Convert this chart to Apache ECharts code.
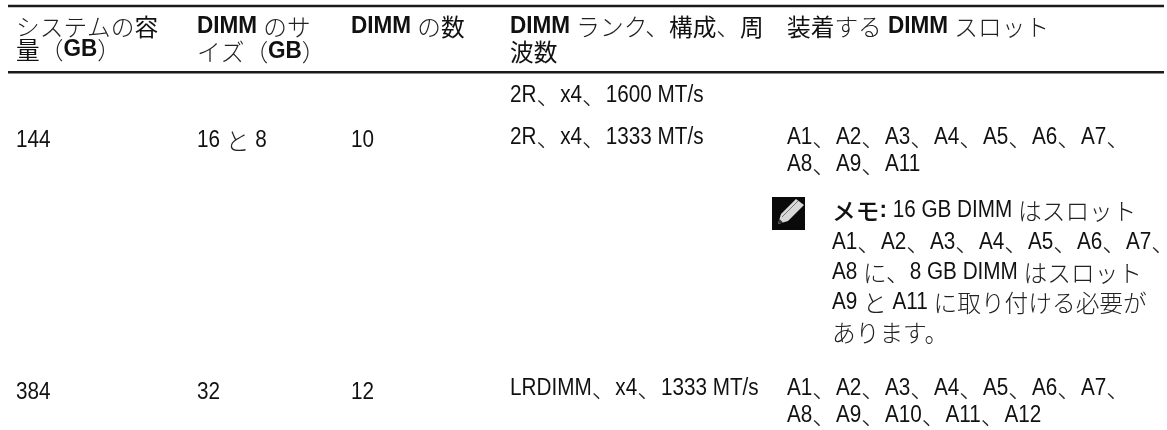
<!DOCTYPE html>
<html style="height: 100%">
<head>
    <meta charset="utf-8">
    <title>DIMM</title>
</head>
<body style="height: 100%; margin: 0; background: #fff">
    <div id="main" style="width: 1167px; height: 430px;"></div>
    <script src="https://cdn.jsdelivr.net/npm/echarts@6/dist/echarts.min.js"></script>
    <script type="text/javascript">
    // table text, one entry per printed line
    var headers = [
        ['システムの容', '量（GB）'],
        ['DIMM のサ', 'イズ（GB）'],
        ['DIMM の数'],
        ['DIMM ランク、構成、周', '波数'],
        ['装着する DIMM スロット']
    ];
    var capacity = ['', '144', '384'];
    var dimmSize = ['', '16 と 8', '32'];
    var dimmCount = ['', '10', '12'];
    var rankConfig = ['2R、x4、1600 MT/s', '2R、x4、1333 MT/s', 'LRDIMM、x4、1333 MT/s'];
    var slots = [
        [],
        ['A1、A2、A3、A4、A5、A6、A7、', 'A8、A9、A11'],
        ['A1、A2、A3、A4、A5、A6、A7、', 'A8、A9、A10、A11、A12']
    ];
    var noteLabel = 'メモ:';
    var noteLines = [
        ' 16 GB DIMM はスロット',
        'A1、A2、A3、A4、A5、A6、A7、',
        'A8 に、8 GB DIMM はスロット',
        'A9 と A11 に取り付ける必要が',
        'あります。'
    ];

    var LATIN = '"Liberation Sans"';
    var CJK = '"Noto Sans CJK JP"';
    var columnX = [16, 197, 351, 510, 787];
    var noteX = 832;
    var leftRowY = [95, 141, 393];
    var rankRowY = [96, 138, 389];
    var slotGap = 27;
    var noteY = [211, 243, 273, 303, 333];
    var headerLine2Y = [50, 52, 52, 52, 52];
    var items = [];

    // latin is squeezed a bit, no condensed face is installed
    var runStyles = {
        la: { font: '23px ' + LATIN, fill: '#111', sx: 0.9 },
        laB: { font: 'bold 23px ' + LATIN, fill: '#111', sx: 0.98 },
        cj: { font: '300 23.7px ' + CJK, fill: '#222', sx: 1 },
        cjK: { font: '400 23.7px ' + CJK, fill: '#111', sx: 1 },
        cjB: { font: '500 23.7px ' + CJK, fill: '#111', sx: 1 }
    };
    var measure = document.createElement('canvas').getContext('2d');

    function addRun(run, key, x, y) {
        var st = runStyles[key];
        measure.font = st.font;
        items.push({
            type: 'text',
            x: x,
            y: y,
            scaleX: st.sx,
            style: { text: run, font: st.font, fill: st.fill, verticalAlign: 'middle' }
        });
        return x + measure.measureText(run).width * st.sx;
    }

    // split a line into latin, kanji and kana runs and lay them out one after another
    function addLine(str, x, y, bold, kanaKey) {
        var runs = str.match(/[\x20-\x7e]+|[\u4e00-\u9fff]+|[^\x20-\x7e\u4e00-\u9fff]+/g) || [];
        runs.forEach(function (run) {
            var key = 'cj';
            if (/[\x20-\x7e]/.test(run)) key = bold ? 'laB' : 'la';
            else if (/[\u4e00-\u9fff]/.test(run)) key = bold ? 'cjK' : 'cj';
            else if (kanaKey) key = kanaKey;
            x = addRun(run, key, x, y);
        });
        return x;
    }

    function addRule(y) {
        items.push({
            type: 'line',
            shape: { x1: 8, y1: y, x2: 1164, y2: y },
            style: { stroke: '#1a1a1a', lineWidth: 2.5 }
        });
    }

    addRule(6);
    addRule(72.3);

    headers.forEach(function (lines, c) {
        addLine(lines[0], columnX[c], 27, true);
        if (lines[1]) addLine(lines[1], columnX[c], headerLine2Y[c], true);
    });

    rankConfig.forEach(function (str, r) {
        addLine(capacity[r], columnX[0], leftRowY[r]);
        addLine(dimmSize[r], columnX[1], leftRowY[r]);
        addLine(dimmCount[r], columnX[2], leftRowY[r]);
        addLine(str, columnX[3], rankRowY[r]);
        slots[r].forEach(function (line, i) {
            addLine(line, columnX[4], rankRowY[r] + i * slotGap);
        });
    });

    noteLines.forEach(function (line, i) {
        var x = noteX;
        if (i === 0) x = addLine(noteLabel, x, noteY[i], true, 'cjB');
        addLine(line, x, noteY[i]);
    });

    // note icon, pencil on black
    items.push({ type: 'rect', shape: { x: 772, y: 197, width: 33, height: 33 }, style: { fill: '#0a0a0a' } });
    items.push({
        type: 'polygon',
        shape: { points: [[778, 224], [781, 214], [796, 199], [804, 205], [788, 221]] },
        style: { fill: '#d8d8d8' }
    });
    items.push({
        type: 'polyline',
        shape: { points: [[782, 217], [798, 201]] },
        style: { stroke: '#777', lineWidth: 1, fill: 'none' }
    });
    items.push({
        type: 'polygon',
        shape: { points: [[778, 224], [779.5, 219], [783, 222.5]] },
        style: { fill: '#333' }
    });

    var myChart = echarts.init(document.getElementById('main'));
    myChart.setOption({
        animation: false,
        backgroundColor: '#fff',
        graphic: { elements: items }
    });
    </script>
</body>
</html>
